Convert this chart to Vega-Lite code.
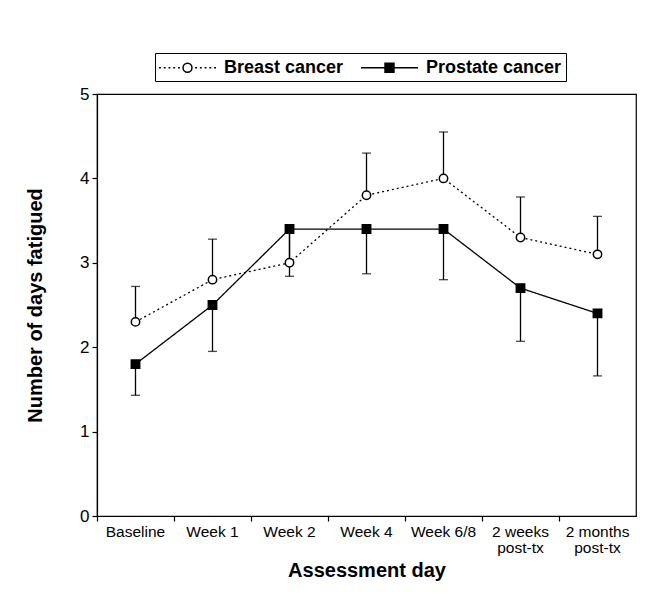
{
  "$schema": "https://vega.github.io/schema/vega-lite/v6.json",
  "width": 539,
  "height": 422,
  "autosize": "none",
  "padding": {"left": 97, "top": 94, "right": 24, "bottom": 81},
  "background": "white",
  "config": {
    "view": {"stroke": "black", "strokeWidth": 1.2},
    "font": "Liberation Sans",
    "axis": {"domainColor": "black", "tickColor": "black", "labelColor": "black", "titleColor": "black", "grid": false, "domainWidth": 1.2, "tickWidth": 1.2}
  },
  "data": {
    "values": [
      {"day": "Baseline", "series": "Breast cancer", "mean": 2.3, "end": 2.72},
      {"day": "Week 1", "series": "Breast cancer", "mean": 2.8, "end": 3.28},
      {"day": "Week 2", "series": "Breast cancer", "mean": 3.0, "end": 3.4},
      {"day": "Week 4", "series": "Breast cancer", "mean": 3.8, "end": 4.3},
      {"day": "Week 6/8", "series": "Breast cancer", "mean": 4.0, "end": 4.55},
      {"day": "2 weeks post-tx", "series": "Breast cancer", "mean": 3.3, "end": 3.78},
      {"day": "2 months post-tx", "series": "Breast cancer", "mean": 3.1, "end": 3.55},
      {"day": "Baseline", "series": "Prostate cancer", "mean": 1.8, "end": 1.43},
      {"day": "Week 1", "series": "Prostate cancer", "mean": 2.5, "end": 1.95},
      {"day": "Week 2", "series": "Prostate cancer", "mean": 3.4, "end": 2.84},
      {"day": "Week 4", "series": "Prostate cancer", "mean": 3.4, "end": 2.87},
      {"day": "Week 6/8", "series": "Prostate cancer", "mean": 3.4, "end": 2.8},
      {"day": "2 weeks post-tx", "series": "Prostate cancer", "mean": 2.7, "end": 2.07},
      {"day": "2 months post-tx", "series": "Prostate cancer", "mean": 2.4, "end": 1.66}
    ]
  },
  "encoding": {
    "x": {
      "field": "day", "type": "nominal", "sort": null,
      "scale": {"type": "band", "paddingInner": 0, "paddingOuter": 0},
      "axis": {
        "title": "Assessment day", "titleFontSize": 20, "titleFontWeight": "bold", "titlePadding": 5,
        "labelFontSize": 15.5, "labelAngle": 0, "labelPadding": 3, "tickSize": 5, "bandPosition": 0,
        "labelExpr": "indexof(datum.label, ' post-tx') > 0 ? [slice(datum.label, 0, indexof(datum.label, ' post-tx')), 'post-tx'] : datum.label",
        "labelLineHeight": 16
      }
    },
    "y": {
      "field": "mean", "type": "quantitative",
      "scale": {"domain": [0, 5], "nice": false},
      "axis": {
        "title": "Number of days fatigued", "titleFontSize": 20, "titleFontWeight": "bold", "titlePadding": 34,
        "labelFontSize": 17, "tickSize": 5, "values": [0, 1, 2, 3, 4, 5], "labelPadding": 3
      }
    }
  },
  "layer": [
    {
      "mark": {"type": "rule", "color": "black", "strokeWidth": 1.3},
      "encoding": {"y2": {"field": "end"}}
    },
    {
      "mark": {"type": "tick", "color": "black", "size": 9, "thickness": 1.3, "orient": "horizontal"},
      "encoding": {"y": {"field": "end", "type": "quantitative"}}
    },
    {
      "mark": {"type": "line", "color": "black", "strokeWidth": 1.3},
      "encoding": {
        "detail": {"field": "series"},
        "strokeDash": {"condition": {"test": "datum.series === 'Breast cancer'", "value": [2, 3]}, "value": [1, 0]}
      }
    },
    {
      "mark": {"type": "point", "filled": true, "size": 70, "strokeWidth": 1.5, "stroke": "black", "opacity": 1},
      "encoding": {
        "fill": {"condition": {"test": "datum.series === 'Prostate cancer'", "value": "black"}, "value": "white"},
        "shape": {"condition": {"test": "datum.series === 'Prostate cancer'", "value": "square"}, "value": "circle"}
      }
    },
    {
      "mark": {"type": "point", "filled": false, "size": 1, "strokeWidth": 1.5, "opacity": 0},
      "encoding": {
        "fill": {
          "field": "series", "type": "nominal",
          "scale": {"domain": ["Breast cancer", "Prostate cancer"], "range": ["white", "black"]}
        },
        "stroke": {
          "field": "series", "type": "nominal",
          "scale": {"domain": ["Breast cancer", "Prostate cancer"], "range": ["black", "black"]}
        },
        "shape": {
          "field": "series", "type": "nominal",
          "scale": {"domain": ["Breast cancer", "Prostate cancer"], "range": [
            "M-3,0H-2.8M-2.5,0H-2.3M-2,0H-1.8M-1.5,0H-1.3M-1,0H-0.8M0.8,0H1M1.3,0H1.5M1.8,0H2M2.3,0H2.5M2.8,0H3M0.47,0A0.47,0.47 0 1,1 -0.47,0A0.47,0.47 0 1,1 0.47,0Z",
            "M-3,0H3M-0.47,-0.47H0.47V0.47H-0.47Z"
          ]},
          "legend": {
            "title": null, "orient": "none", "legendX": 58, "legendY": -41, "direction": "horizontal",
            "labelFont": "Liberation Sans", "labelFontWeight": "bold", "labelFontSize": 18, "labelColor": "black",
            "strokeColor": "black", "fillColor": "white", "padding": 4, "symbolSize": 361,
            "symbolOffset": 18, "labelOffset": 26, "columnPadding": 14,
            "symbolStrokeWidth": 1.5, "symbolStrokeColor": "black", "symbolOpacity": 1
          }
        }
      }
    }
  ]
}
